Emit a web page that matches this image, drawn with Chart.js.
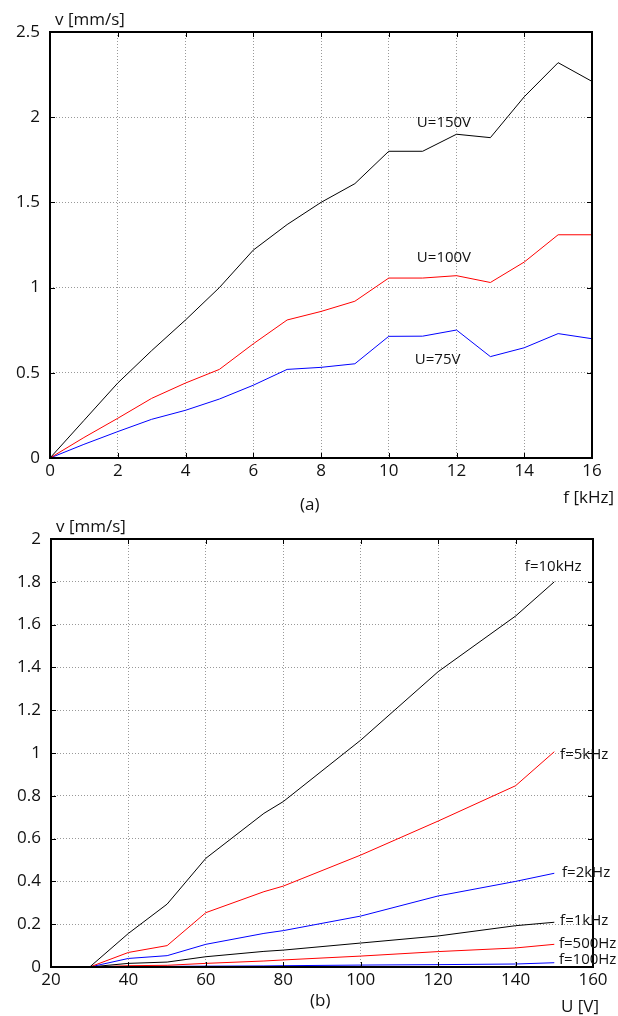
<!DOCTYPE html>
<html>
<head>
<meta charset="utf-8">
<script src="https://cdn.jsdelivr.net/npm/chart.js@4.4.1/dist/chart.umd.min.js"></script>
<style>
  html, body { margin: 0; padding: 0; background: #fff; }
  #wrap { position: relative; width: 618px; height: 1016px; }
  canvas { position: absolute; left: 0; }
</style>
</head>
<body>
<div id="wrap">
  <canvas id="chartA" width="618" height="522" style="top:0"></canvas>
  <canvas id="chartB" width="618" height="506" style="top:510px"></canvas>
</div>
<script>
// (a) speed vs frequency
const freqKHz = [0, 1, 2, 3, 4, 5, 6, 7, 8, 9, 10, 11, 12, 13, 14, 15, 16];
const vU150 = [0, 0.22, 0.44, 0.63, 0.81, 1.0, 1.22, 1.37, 1.50, 1.61, 1.80, 1.80, 1.90, 1.88, 2.12, 2.32, 2.21];
const vU100 = [0, 0.12, 0.233, 0.35, 0.44, 0.52, 0.67, 0.81, 0.86, 0.92, 1.056, 1.056, 1.07, 1.03, 1.15, 1.31, 1.31];
const vU75  = [0, 0.08, 0.155, 0.227, 0.28, 0.346, 0.427, 0.52, 0.532, 0.553, 0.714, 0.715, 0.751, 0.595, 0.647, 0.73, 0.70];
const seriesA = ['U=150V', 'U=100V', 'U=75V'];

// (b) speed vs voltage
const voltageV = [30, 40, 50, 60, 75, 80, 100, 120, 140, 150];
const v10k = [0, 0.157, 0.294, 0.508, 0.718, 0.773, 1.06, 1.38, 1.64, 1.80];
const v5k  = [0, 0.068, 0.10, 0.254, 0.352, 0.378, 0.523, 0.682, 0.847, 1.006];
const v2k  = [0, 0.04, 0.053, 0.106, 0.157, 0.17, 0.238, 0.332, 0.40, 0.438];
const v1k  = [0, 0.017, 0.023, 0.048, 0.073, 0.079, 0.112, 0.145, 0.193, 0.209];
const v500 = [0, 0.006, 0.008, 0.017, 0.028, 0.033, 0.051, 0.072, 0.089, 0.106];
const v100 = [0, 0.002, 0.003, 0.004, 0.005, 0.006, 0.009, 0.011, 0.014, 0.02];
const seriesB = ['f=10kHz', 'f=5kHz', 'f=2kHz', 'f=1kHz', 'f=500Hz', 'f=100Hz'];

const FONT = '"Open Sans", "DejaVu Sans", sans-serif';
const pts = (xs, ys) => xs.map((x, i) => ({ x: x, y: ys[i] }));
const line = (label, xs, ys, color) => ({
  label, data: pts(xs, ys), borderColor: color, backgroundColor: color,
  borderWidth: 1, pointRadius: 0, tension: 0, fill: false
});

// frame, inward ticks, curve labels and axis titles
const framePlugin = {
  id: 'frame',
  afterDraw(chart, args, opts) {
    const { ctx, chartArea: a, scales: { x, y } } = chart;
    ctx.save();
    ctx.strokeStyle = '#000';
    ctx.lineWidth = 1;
    ctx.beginPath();
    x.ticks.forEach(t => {
      const px = Math.round(x.getPixelForValue(t.value)) + 0.5;
      ctx.moveTo(px, a.top); ctx.lineTo(px, a.top + 5);
      ctx.moveTo(px, a.bottom); ctx.lineTo(px, a.bottom - 5);
    });
    y.ticks.forEach(t => {
      const py = Math.round(y.getPixelForValue(t.value)) + 0.5;
      ctx.moveTo(a.left, py); ctx.lineTo(a.left + 5, py);
      ctx.moveTo(a.right, py); ctx.lineTo(a.right - 5, py);
    });
    ctx.stroke();
    ctx.lineWidth = 2;
    ctx.strokeRect(a.left, a.top, a.right - a.left, a.bottom - a.top);

    ctx.fillStyle = '#111';
    ctx.textBaseline = 'middle';
    ctx.textAlign = 'left';
    ctx.font = '15px ' + FONT;
    opts.notes.forEach(n => {
      ctx.fillText(n.text, x.getPixelForValue(n.x), y.getPixelForValue(n.y));
    });
    ctx.font = '17px ' + FONT;
    ctx.fillText('v [mm/s]', a.left + 5, a.top - 12);
    ctx.fillText(opts.tag, opts.tagX, a.bottom + opts.tagDy);
    ctx.textAlign = 'right';
    ctx.fillText(opts.xTitle, opts.xTitleRight, a.bottom + 40);
    ctx.restore();
  }
};

const gridOpts = { color: '#999', lineWidth: 1, drawTicks: false };
const tickFont = { family: FONT, size: 17 };

function axes(xMin, xMax, xStep, yMax, yStep, yWidth, xHeight) {
  return {
    x: {
      type: 'linear', min: xMin, max: xMax,
      grid: gridOpts, border: { display: false, dash: [1, 2] },
      ticks: { stepSize: xStep, color: '#111', font: tickFont, padding: 3, maxRotation: 0 },
      afterFit: s => { s.height = xHeight; }
    },
    y: {
      min: 0, max: yMax,
      grid: gridOpts, border: { display: false, dash: [1, 2] },
      ticks: {
        stepSize: yStep, color: '#111', font: tickFont, padding: 10,
        callback: v => String(Number(v.toFixed(1)))
      },
      afterFit: s => { s.width = yWidth; }
    }
  };
}

new Chart(document.getElementById('chartA'), {
  type: 'line',
  data: {
    datasets: [
      line(seriesA[0], freqKHz, vU150, '#000000'),
      line(seriesA[1], freqKHz, vU100, '#ff0000'),
      line(seriesA[2], freqKHz, vU75, '#0000ff')
    ]
  },
  options: {
    responsive: false,
    animation: false,
    layout: { padding: { top: 32, right: 26, left: 0, bottom: 0 } },
    scales: axes(0, 16, 2, 2.5, 0.5, 50, 64),
    plugins: {
      legend: { display: false },
      tooltip: { enabled: false },
      frame: {
        notes: [
          { text: seriesA[0], x: 10.83, y: 1.97 },
          { text: seriesA[1], x: 10.83, y: 1.174 },
          { text: seriesA[2], x: 10.77, y: 0.575 }
        ],
        tag: '(a)', tagX: 300, tagDy: 47,
        xTitle: 'f [kHz]', xTitleRight: 614
      }
    }
  },
  plugins: [framePlugin]
});

new Chart(document.getElementById('chartB'), {
  type: 'line',
  data: {
    datasets: [
      line(seriesB[0], voltageV, v10k, '#000000'),
      line(seriesB[1], voltageV, v5k, '#ff0000'),
      line(seriesB[2], voltageV, v2k, '#0000ff'),
      line(seriesB[3], voltageV, v1k, '#000000'),
      line(seriesB[4], voltageV, v500, '#ff0000'),
      line(seriesB[5], voltageV, v100, '#0000ff')
    ]
  },
  options: {
    responsive: false,
    animation: false,
    layout: { padding: { top: 29, right: 25, left: 0, bottom: 0 } },
    scales: axes(20, 160, 20, 2, 0.2, 51, 49),
    plugins: {
      legend: { display: false },
      tooltip: { enabled: false },
      frame: {
        notes: [
          { text: seriesB[0], x: 142.4, y: 1.87 },
          { text: seriesB[1], x: 151.5, y: 0.99 },
          { text: seriesB[2], x: 152, y: 0.44 },
          { text: seriesB[3], x: 151.5, y: 0.215 },
          { text: seriesB[4], x: 151.2, y: 0.107 },
          { text: seriesB[5], x: 151.2, y: 0.033 }
        ],
        tag: '(b)', tagX: 310, tagDy: 34,
        xTitle: 'U [V]', xTitleRight: 599
      }
    }
  },
  plugins: [framePlugin]
});
</script>
</body>
</html>
